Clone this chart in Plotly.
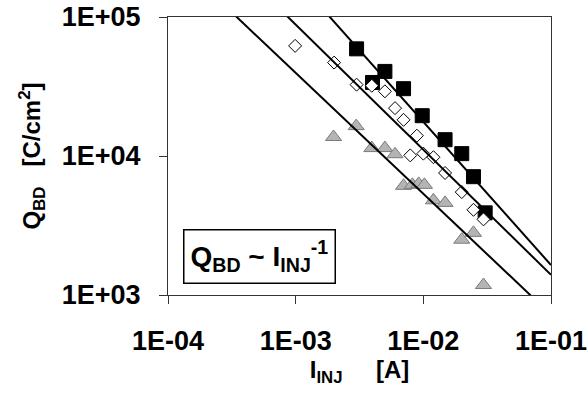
import numpy as np
import plotly.graph_objects as go

# Injection current [A] and charge-to-breakdown [C/cm^2] for three sample groups
inj_squares = [3.0e-3, 5.0e-3, 4.0e-3, 7.0e-3, 9.8e-3, 1.48e-2, 2.0e-2, 2.47e-2, 3.05e-2]
qbd_squares = [5.9e4, 4.06e4, 3.38e4, 3.05e4, 1.95e4, 1.31e4, 1.04e4, 7.1e3, 3.9e3]

inj_diamonds = [9.9e-4, 2.0e-3, 3.0e-3, 3.95e-3, 5.0e-3, 6.0e-3, 7.0e-3, 8.9e-3,
                7.9e-3, 1.0e-2, 1.2e-2, 1.48e-2, 2.0e-2, 2.47e-2, 2.96e-2]
qbd_diamonds = [6.2e4, 4.7e4, 3.26e4, 3.2e4, 2.92e4, 2.21e4, 1.82e4, 1.40e4,
                1.01e4, 1.04e4, 9.8e3, 7.55e3, 5.5e3, 4.1e3, 3.5e3]

inj_triangles = [1.98e-3, 2.98e-3, 3.95e-3, 5.0e-3, 6.0e-3, 7.0e-3, 8.2e-3,
                 9.2e-3, 1.02e-2, 1.2e-2, 1.48e-2, 2.0e-2, 2.47e-2, 2.96e-2]
qbd_triangles = [1.37e4, 1.64e4, 1.14e4, 1.14e4, 1.03e4, 6.1e3, 6.2e3,
                 6.3e3, 6.2e3, 4.8e3, 4.6e3, 2.5e3, 2.8e3, 1.18e3]

# Power-law fits Q = Q(10 mA) * (I / 10 mA)^n  (triangles, diamonds, squares)
fit_q_at_10mA = [5.35e3, 1.11e4, 1.76e4]
fit_exponent = [-0.87, -0.90, -1.03]

x_ticks = [1e-4, 1e-3, 1e-2, 1e-1]
x_tick_text = ["1E-04", "1E-03", "1E-02", "1E-01"]
y_ticks = [1e3, 1e4, 1e5]
y_tick_text = ["1E+03", "1E+04", "1E+05"]

FONT = "Liberation Sans, Arial, sans-serif"


def bold(s):
    return "<b>" + s + "</b>"


fig = go.Figure()

fig.add_trace(go.Scatter(
    x=inj_squares, y=qbd_squares, mode="markers",
    marker=dict(symbol="square", size=14, color="black",
                line=dict(color="black", width=1)),
    showlegend=False))

fig.add_trace(go.Scatter(
    x=inj_diamonds, y=qbd_diamonds, mode="markers",
    marker=dict(symbol="diamond", size=10, color="white",
                line=dict(color="black", width=1)),
    showlegend=False))

fig.add_trace(go.Scatter(
    x=inj_triangles, y=qbd_triangles, mode="markers",
    marker=dict(symbol="triangle-up", size=14, color="#b4b4b4",
                line=dict(color="#7a7a7a", width=1)),
    showlegend=False))

# Fit lines across the whole current range
x_fit = np.array([1e-4, 1e-1])
for q0, n in zip(fit_q_at_10mA, fit_exponent):
    fig.add_trace(go.Scatter(
        x=x_fit, y=q0 * (x_fit / 1e-2) ** n, mode="lines",
        line=dict(color="black", width=2),
        showlegend=False, cliponaxis=True))

fig.add_annotation(
    x=0.04, xref="paper", y=0.04, yref="paper",
    xanchor="left", yanchor="bottom",
    text=bold("Q<sub>BD</sub> ~ I<sub>INJ</sub><sup>-1</sup>"),
    showarrow=False,
    font=dict(family=FONT, size=28, color="black"),
    bordercolor="black", borderwidth=1.5, borderpad=6,
    bgcolor="white")

fig.update_xaxes(
    type="log", range=[-4, -1],
    tickvals=x_ticks, ticktext=[bold(t) for t in x_tick_text],
    ticks="outside", ticklen=8, tickcolor="#333", tickwidth=1,
    ticklabelstandoff=14,
    showline=True, linecolor="#333", linewidth=1, mirror=True,
    showgrid=False, zeroline=False,
    tickfont=dict(family=FONT, size=27, color="black"),
    title=dict(text=bold("I<sub>INJ</sub>\u00a0\u00a0\u00a0\u00a0\u00a0[A]"),
               font=dict(family=FONT, size=24, color="black"),
               standoff=4))

fig.update_yaxes(
    type="log", range=[3, 5],
    tickvals=y_ticks, ticktext=[bold(t) for t in y_tick_text],
    ticks="outside", ticklen=8, tickcolor="#333", tickwidth=1,
    ticklabelstandoff=13,
    showline=True, linecolor="#333", linewidth=1, mirror=True,
    showgrid=False, zeroline=False,
    tickfont=dict(family=FONT, size=27, color="black"),
    title=dict(text=bold("Q<sub>BD</sub>\u00a0\u00a0\u00a0[C/cm<sup>2</sup>]"),
               font=dict(family=FONT, size=24, color="black"),
               standoff=14))

fig.update_layout(
    width=588, height=397,
    margin=dict(l=168, r=37, t=17, b=102, autoexpand=False),
    plot_bgcolor="white", paper_bgcolor="white")

fig.write_html("out.html")
